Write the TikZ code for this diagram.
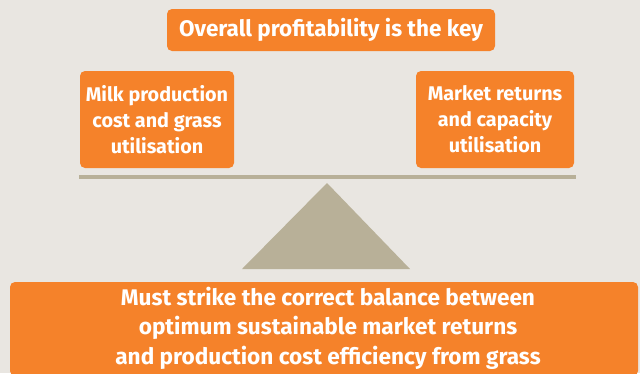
\documentclass[tikz,border=0pt]{standalone}
\usepackage{fontspec}
\setmainfont{Fira Sans}
\definecolor{bg}{HTML}{E9E6E1}
\definecolor{org}{HTML}{F5822A}
\definecolor{tan}{HTML}{B8B098}
\begin{document}
\begin{tikzpicture}[x=1pt,y=-1pt,
  obox/.style={fill=org,rounded corners=5pt,inner sep=0pt,text=white,font=\bfseries,align=center},
  txt/.style={text=white,font=\bfseries,align=center,inner sep=0pt}]
\useasboundingbox (0,0) rectangle (640,373);
\clip (0,0) rectangle (640,373);
\fill[bg] (0,0) rectangle (640,373);
\node[obox,minimum width=328pt,minimum height=42pt,font=\bfseries\fontsize{22.5}{24}\selectfont] (top) at (331,30) {Overall profitability is the key};
\node[obox,minimum width=154pt,minimum height=97pt,font=\bfseries\fontsize{19.8}{26}\selectfont] (left) at (157,119.5) {Milk production\\cost and grass\\utilisation};
\node[obox,minimum width=158pt,minimum height=97pt,font=\bfseries\fontsize{19.8}{26}\selectfont] (right) at (495,119.5) {Market returns\\and capacity\\utilisation};
\fill[tan] (79,175) rectangle (576,179);
\fill[tan] (327,183) -- (410,269) -- (242,269) -- cycle;
\node[obox,minimum width=628pt,minimum height=94pt] (base) at (324,329) {};
\node[txt,font=\bfseries\fontsize{22.6}{29.5}\selectfont] (basetext) at (328,328) {Must strike the correct balance between\\optimum sustainable market returns\\and production cost efficiency from grass};
\end{tikzpicture}
\end{document}
